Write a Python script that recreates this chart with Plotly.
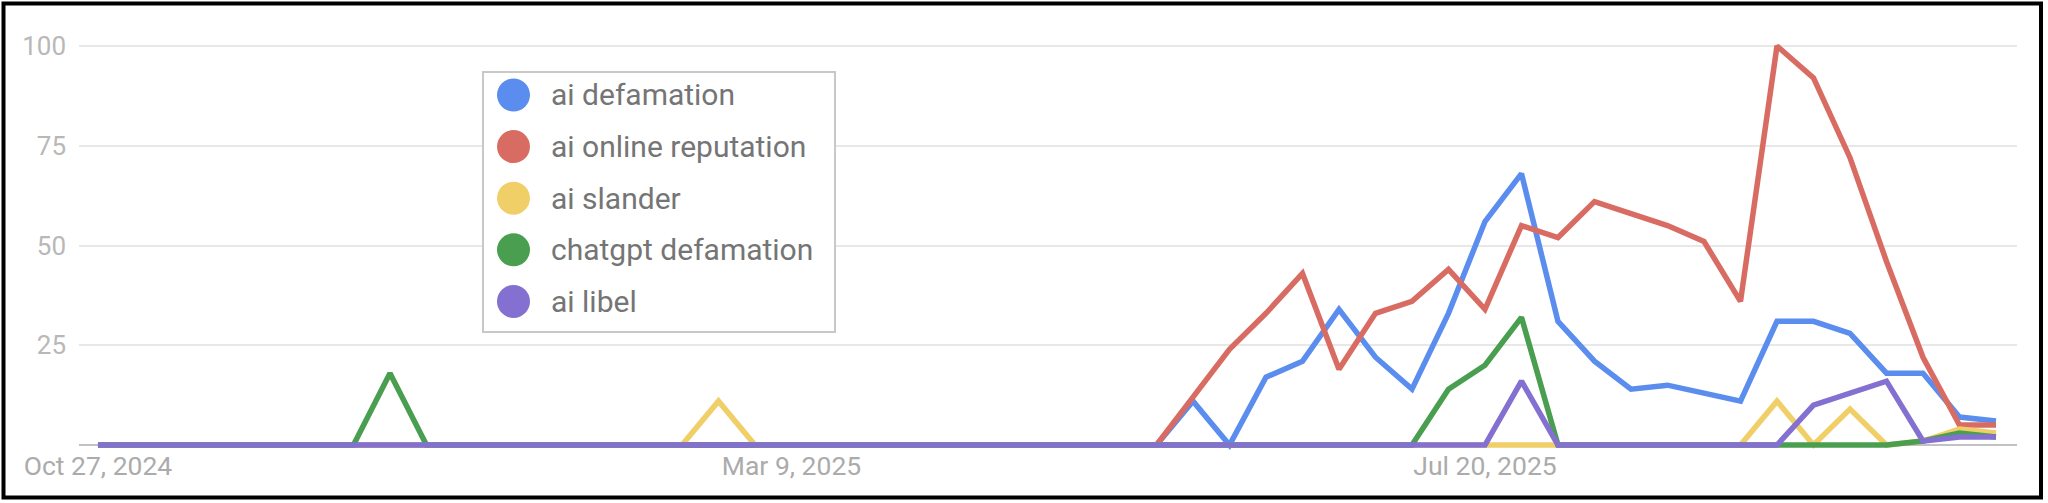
import pandas as pd
import plotly.graph_objects as go

# weekly interest, Oct 27 2024 .. Oct 26 2025
weeks = pd.date_range("2024-10-27", periods=53, freq="7D")

ai_defamation = [0, 0, 0, 0, 0, 0, 0, 0, 0, 0,
                 0, 0, 0, 0, 0, 0, 0, 0, 0, 0,
                 0, 0, 0, 0, 0, 0, 0, 0, 0, 0,
                 11, 0, 17, 21, 34, 22, 14, 33, 56, 68,
                 31, 21, 14, 15, 13, 11, 31, 31, 28, 18,
                 18, 7, 6]
ai_online_reputation = [0, 0, 0, 0, 0, 0, 0, 0, 0, 0,
                        0, 0, 0, 0, 0, 0, 0, 0, 0, 0,
                        0, 0, 0, 0, 0, 0, 0, 0, 0, 0,
                        12, 24, 33, 43, 19, 33, 36, 44, 34, 55,
                        52, 61, 58, 55, 51, 36, 100, 92, 72, 46,
                        22, 5, 5]
ai_slander = [0, 0, 0, 0, 0, 0, 0, 0, 0, 0,
              0, 0, 0, 0, 0, 0, 0, 11, 0, 0,
              0, 0, 0, 0, 0, 0, 0, 0, 0, 0,
              0, 0, 0, 0, 0, 0, 0, 0, 0, 0,
              0, 0, 0, 0, 0, 0, 11, 0, 9, 0,
              1, 4, 3]
chatgpt_defamation = [0, 0, 0, 0, 0, 0, 0, 0, 18, 0,
                      0, 0, 0, 0, 0, 0, 0, 0, 0, 0,
                      0, 0, 0, 0, 0, 0, 0, 0, 0, 0,
                      0, 0, 0, 0, 0, 0, 0, 14, 20, 32,
                      0, 0, 0, 0, 0, 0, 0, 0, 0, 0,
                      1, 3, 2]
ai_libel = [0, 0, 0, 0, 0, 0, 0, 0, 0, 0,
            0, 0, 0, 0, 0, 0, 0, 0, 0, 0,
            0, 0, 0, 0, 0, 0, 0, 0, 0, 0,
            0, 0, 0, 0, 0, 0, 0, 0, 0, 16,
            0, 0, 0, 0, 0, 0, 0, 10, 13, 16,
            1, 2, 2]

names = ["ai defamation", "ai online reputation", "ai slander",
         "chatgpt defamation", "ai libel"]
series = [ai_defamation, ai_online_reputation, ai_slander,
          chatgpt_defamation, ai_libel]
colors = ["#5b8def", "#d96c62", "#f0cf68", "#4a9e4f", "#8470d0"]

tick_idx = [0, 19, 38]
tick_text = ["Oct 27, 2024", "Mar 9, 2025", "Jul 20, 2025"]

# размеры картинки и поля (в пикселях)
W, H = 2048, 503
L, R, T, B = 79, 31, 40, 52


def px(x):
    return (x - L) / (W - L - R)


def py(y):
    return (H - B - y) / (H - T - B)


fig = go.Figure()
for name, vals, col in zip(names, series, colors):
    fig.add_trace(go.Scatter(x=weeks, y=vals, name=name, mode="lines",
                             line=dict(color=col, width=5.5),
                             showlegend=False))

# x range: ~3.6 days before first week, ~4 days after last
x_start = weeks[0] - pd.Timedelta(days=3.64)
x_end = weeks[-1] + pd.Timedelta(days=4.03)

fig.update_xaxes(range=[x_start, x_end], showgrid=False, zeroline=False,
                 showline=False, ticks="", ticklabelstandoff=-4,
                 tickvals=[weeks[i] for i in tick_idx], ticktext=tick_text,
                 tickfont=dict(family="Roboto", size=26.5, color="#ababab"))
fig.update_yaxes(range=[-1.5, 101.5], tickvals=[25, 50, 75, 100],
                 showgrid=True, gridcolor="#e8e8e8", gridwidth=2,
                 zeroline=True, zerolinecolor="#c2c2c2", zerolinewidth=2,
                 showline=False, ticks="", ticklabelstandoff=12,
                 tickfont=dict(family="Roboto", size=26, color="#b8b8b8"))

shapes = []
annotations = []

# самодельная легенда
shapes.append(dict(type="rect", xref="paper", yref="paper",
                   x0=px(483), x1=px(835), y0=py(72), y1=py(332),
                   line=dict(color="#c8c8c8", width=2), fillcolor="white",
                   layer="above"))
for i, (name, col) in enumerate(zip(names, colors)):
    cy = 95 + 51.6 * i
    shapes.append(dict(type="circle", xref="paper", yref="paper",
                       x0=px(497), x1=px(530), y0=py(cy - 16.5), y1=py(cy + 16.5),
                       line=dict(width=0), fillcolor=col, layer="above"))
    annotations.append(dict(text=name, xref="paper", yref="paper",
                            x=px(549), y=py(cy), xanchor="left", yanchor="middle",
                            showarrow=False,
                            font=dict(family="Roboto", size=30, color="#757575")))

# черная рамка вокруг всего
shapes.append(dict(type="rect", xref="paper", yref="paper",
                   x0=px(3.5), x1=px(2041), y0=py(3.5), y1=py(497.5),
                   line=dict(color="black", width=4), layer="above"))

fig.update_layout(width=W, height=H, margin=dict(l=L, r=R, t=T, b=B),
                  plot_bgcolor="white", paper_bgcolor="white",
                  shapes=shapes, annotations=annotations,
                  font=dict(family="Roboto"))

# убрать отступ body, иначе картинка съезжает; без панели кнопок
fig.write_html("out.html", config={"displayModeBar": False},
               post_script="document.body.style.margin='0';")
